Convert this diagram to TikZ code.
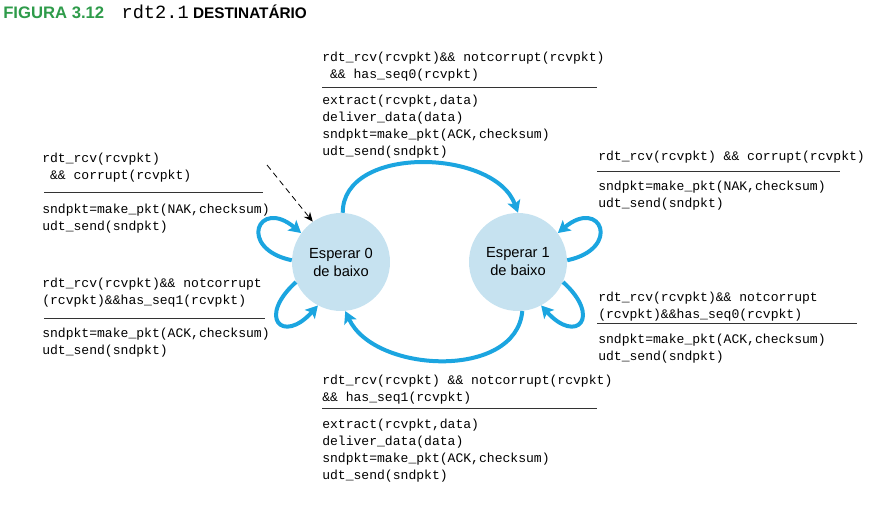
\documentclass[tikz,border=0pt]{standalone}
\usepackage{fontspec}
\setmainfont{Liberation Sans}
\setsansfont{Liberation Sans}
\setmonofont{Liberation Mono}
\usetikzlibrary{arrows.meta,positioning}
\definecolor{stateblue}{RGB}{198,226,240}
\definecolor{arcblue}{RGB}{27,165,224}
\definecolor{figgreen}{RGB}{46,155,74}
\tikzset{
    waitstate/.style={circle,fill=stateblue,minimum size=73.5pt,inner sep=0pt,align=center,font=\fontsize{11}{13.5}\selectfont},
    cond/.style={anchor=north west,inner sep=0pt,align=left,font=\ttfamily\fontsize{9.8}{12.75}\selectfont},
    rulebar/.style={draw=black!80,line width=0.6pt},
    arrowfwd/.style={draw=arcblue,line width=3pt,-{Stealth[length=9pt,width=10pt,inset=2pt]}},
    arrowinit/.style={draw=black,line width=0.6pt,dash pattern=on 4.5pt off 3pt,-{Stealth[length=7pt,width=6pt]}},
    figtitle/.style={anchor=base west,inner sep=0pt,font=\bfseries\fontsize{11.5}{14}\selectfont}
}
\begin{document}
\begin{tikzpicture}[x=0.75pt,y=0.75pt]
        \useasboundingbox (0,0) rectangle (884,507);
        \node[figtitle] (fig) at (3,488) {\textcolor{figgreen}{\fontsize{12.5}{14}\selectfont FIGURA 3.12}\hspace{13pt}{\mdseries\ttfamily\fontsize{14}{14}\selectfont rdt2.1} DESTINATÁRIO};

        \node[waitstate] (wait0) at (341,245) {Esperar 0\\de baixo};
        \node[waitstate] (wait1) at (518,245) {Esperar 1\\de baixo};
        \coordinate (init) at (267,342);

        % top transition
        \node[cond] (cnd01) at (322,455) {rdt\_rcv(rcvpkt)\&\& notcorrupt(rcvpkt)\\~\&\& has\_seq0(rcvpkt)};
        \draw[rulebar] (322,420) -- (597,420);
        \node[cond] (act01) at (322,412) {extract(rcvpkt,data)\\deliver\_data(data)\\sndpkt=make\_pkt(ACK,checksum)\\udt\_send(sndpkt)};

        % bottom transition
        \node[cond] (cnd10) at (322,132) {rdt\_rcv(rcvpkt) \&\& notcorrupt(rcvpkt)\\\&\& has\_seq1(rcvpkt)};
        \draw[rulebar] (322,99) -- (597,99);
        \node[cond] (act10) at (322,88) {extract(rcvpkt,data)\\deliver\_data(data)\\sndpkt=make\_pkt(ACK,checksum)\\udt\_send(sndpkt)};

        % wait0 loops
        \node[cond] (cnd00a) at (42,354) {rdt\_rcv(rcvpkt)\\~\&\& corrupt(rcvpkt)};
        \draw[rulebar] (44,315) -- (263,315);
        \node[cond] (act00a) at (42,303) {sndpkt=make\_pkt(NAK,checksum)\\udt\_send(sndpkt)};
        \node[cond] (cnd00b) at (42,229) {rdt\_rcv(rcvpkt)\&\& notcorrupt\\(rcvpkt)\&\&has\_seq1(rcvpkt)};
        \draw[rulebar] (44,189) -- (265,189);
        \node[cond] (act00b) at (42,179) {sndpkt=make\_pkt(ACK,checksum)\\udt\_send(sndpkt)};

        % wait1 loops
        \node[cond] (cnd11a) at (598,356) {rdt\_rcv(rcvpkt) \&\& corrupt(rcvpkt)};
        \draw[rulebar] (597,336) -- (840,336);
        \node[cond] (act11a) at (598,326) {sndpkt=make\_pkt(NAK,checksum)\\udt\_send(sndpkt)};
        \node[cond] (cnd11b) at (598,215) {rdt\_rcv(rcvpkt)\&\& notcorrupt\\(rcvpkt)\&\&has\_seq0(rcvpkt)};
        \draw[rulebar] (597,184) -- (857,184);
        \node[cond] (act11b) at (598,173) {sndpkt=make\_pkt(ACK,checksum)\\udt\_send(sndpkt)};

        \begin{scope}
            \draw[arrowfwd] (wait0.88) to[out=90,in=110] (wait1.90);
            \draw[arrowfwd] (wait1.-85) to[out=-95,in=-65] (wait0.-85);
            \draw[arrowfwd] (wait0.178) to[out=168,in=140,looseness=5] (wait0.144);
            \draw[arrowfwd] (wait0.204) to[out=222,in=228,looseness=4.2] (wait0.242);
            \draw[arrowfwd] (wait1.2) to[out=12,in=40,looseness=5] (wait1.36);
            \draw[arrowfwd] (wait1.-24) to[out=-42,in=-48,looseness=4.2] (wait1.-62);
            \draw[arrowinit] (init) -- (wait0.125);
        \end{scope}
    \end{tikzpicture}
\end{document}
